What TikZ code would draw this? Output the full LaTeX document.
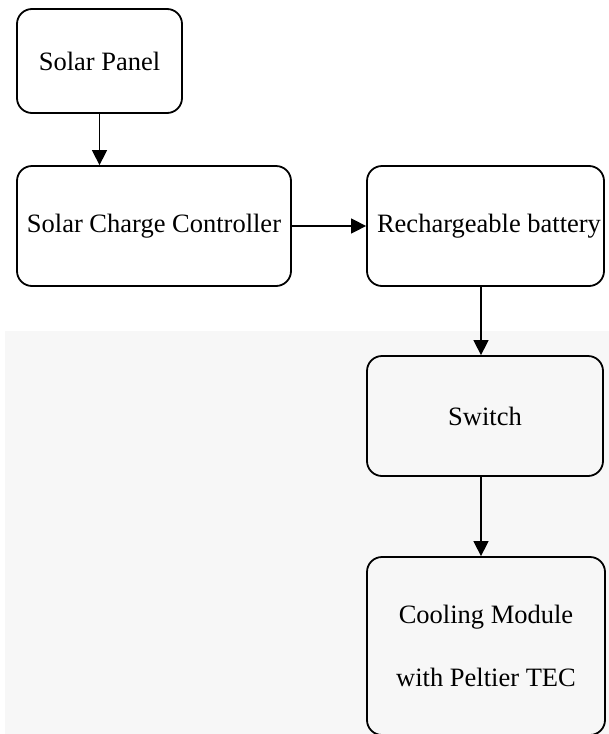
\documentclass[tikz,border=0pt]{standalone}
\usepackage{fontspec}
\setmainfont{Liberation Serif}
\usetikzlibrary{arrows.meta}
\definecolor{backdrop}{HTML}{F7F7F7}
\begin{document}
\begin{tikzpicture}[x=1pt,y=-1pt,
  blockbox/.style={draw, line width=1.8pt, rounded corners=15pt, inner sep=0pt,
    align=center, font=\fontsize{26.5}{63}\selectfont},
  flow/.style={-{Triangle[length=15pt,width=15pt]}, line width=1.5pt}]
\useasboundingbox (0,0) rectangle (609,734);
% shaded lower panel
\fill[backdrop] (5,331) rectangle (609,734);

% blocks
\node[blockbox, minimum width=165pt, minimum height=104pt] (panel) at (99.5,61) {Solar Panel};
\node[blockbox, minimum width=274pt, minimum height=120pt] (scc) at (154,226) {Solar Charge Controller};
\node[blockbox, minimum width=237pt, minimum height=120pt] (battery) at (485.5,226)
  {\hspace*{7pt}Rechargeable battery};
\node[blockbox, minimum width=236pt, minimum height=120pt] (switch) at (485,416) {Switch};
\node[blockbox, minimum width=238pt, minimum height=178pt] (cooling) at (486,646) {Cooling Module\\with Peltier TEC};

% connectors
\draw[flow] (panel.south) -- (scc.north -| panel.south);
\draw[flow] (scc.east) -- (battery.west);
\draw[flow] ([xshift=-4.5pt]battery.south) -- ([xshift=-4pt]switch.north);
\draw[flow] ([xshift=-4pt]switch.south) -- ([xshift=-5pt]cooling.north);
\end{tikzpicture}
\end{document}
